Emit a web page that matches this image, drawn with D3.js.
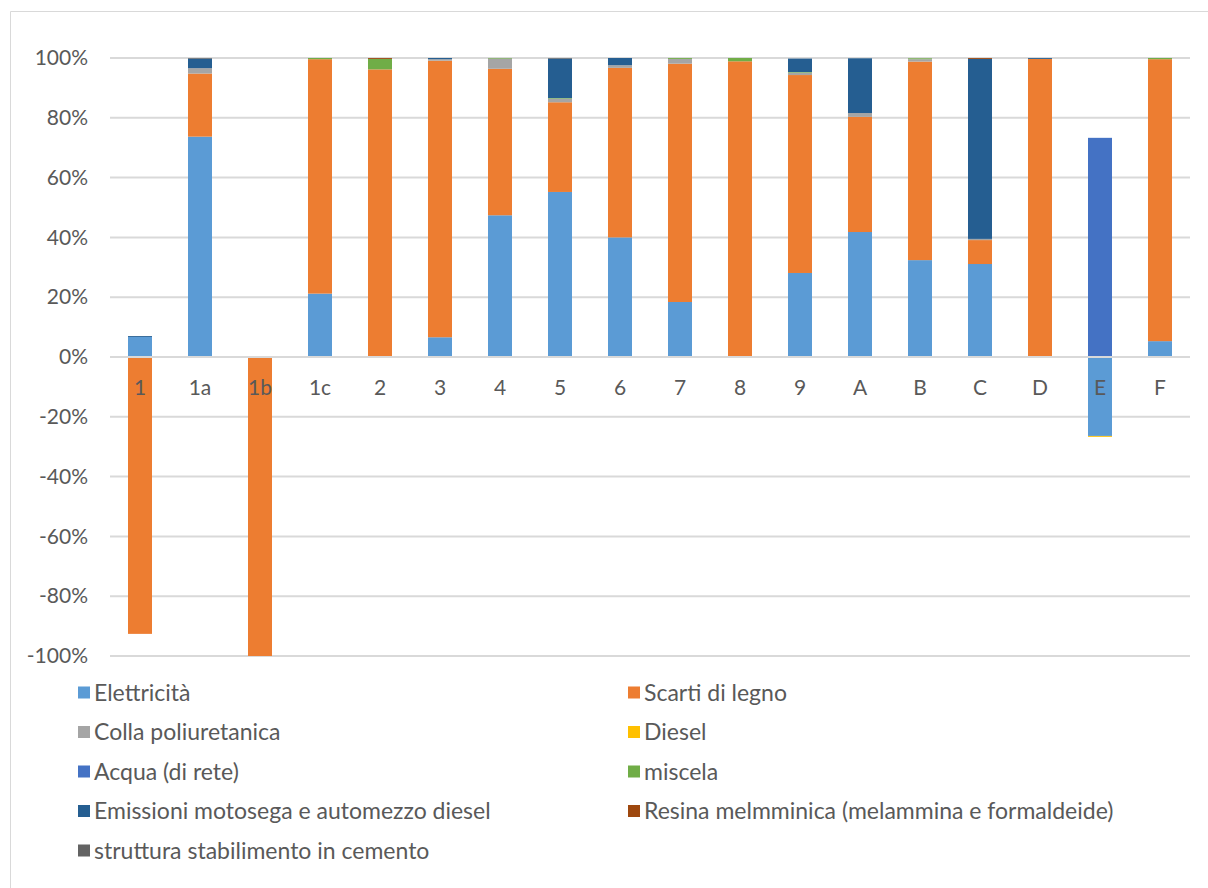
<!DOCTYPE html>
<html><head><meta charset="utf-8">
<script src="https://cdn.jsdelivr.net/npm/d3@7"></script>
<style>
html,body{margin:0;padding:0;background:#fff;}
text{font-family:Lato,"Open Sans",sans-serif;}
</style></head>
<body>
<svg id="chart" width="1208" height="888"></svg>
<script>
const categories = ["1","1a","1b","1c","2","3","4","5","6","7","8","9","A","B","C","D","E","F"];
const seriesNames = ["Elettricità","Scarti di legno","Colla poliuretanica","Diesel","Acqua (di rete)","miscela","Emissioni motosega e automezzo diesel","Resina melmminica (melammina e formaldeide)","struttura stabilimento in cemento"];
const elettricita = [0.067,0.737,0,0.212,0,0.066,0.474,0.552,0.400,0.184,0.003,0.281,0.418,0.324,0.311,0,-0.264,0.053];
const scarti      = [-0.926,0.211,-1.0,0.784,0.962,0.925,0.490,0.300,0.567,0.797,0.986,0.662,0.385,0.664,0.080,0.997,0,0.943];
const colla       = [0,0.018,0,0,0,0.005,0.034,0.012,0.009,0.016,0,0.008,0.013,0.008,0.004,0,0,0];
const diesel      = [0,0,0,0,0,0,0,0,0,0,0,0,0,0,0,0,-0.003,0];
const acqua       = [0,0,0,0,0,0,0,0,0,0,0,0,0,0,0,0,0.733,0];
const miscela     = [0,0,0,0.004,0.035,0,0.002,0.002,0,0.003,0.011,0.002,0,0.003,0,0,0,0.004];
const emissioni   = [0.003,0.032,0,0,0,0.004,0,0.132,0.024,0,0,0.045,0.183,0,0.602,0.003,0,0];
const resina      = [0,0,0,0,0.003,0,0,0,0,0,0,0,0,0,0.003,0,0,0];
const struttura   = [0,0.002,0,0,0,0,0,0.002,0,0,0,0,0,0,0,0,0,0];
const yTicks = [-1,-0.8,-0.6,-0.4,-0.2,0,0.2,0.4,0.6,0.8,1];
const colors = ["#5B9BD5","#ED7D31","#A5A5A5","#FFC000","#4472C4","#70AD47","#255E91","#9E480E","#636363"];

const seriesValues = [elettricita,scarti,colla,diesel,acqua,miscela,emissioni,resina,struttura];
const rows = categories.map((c,i)=>{const r={cat:c}; seriesNames.forEach((s,j)=>r[s]=seriesValues[j][i]); return r;});
const stacked = d3.stack().keys(seriesNames).offset(d3.stackOffsetDiverging)(rows);

const svg = d3.select("#chart");
const L=110, R=1190, T=58, B=656;
const x = d3.scaleBand().domain(categories).range([L,R]).paddingInner(0.6).paddingOuter(0.3);
const y = d3.scaleLinear().domain([-1,1]).range([B,T]);
const color = d3.scaleOrdinal().domain(seriesNames).range(colors);

// chart border
svg.append("path").attr("d","M10.5,888 V11.5 H1208").attr("fill","none").attr("stroke","#d9d9d9").attr("stroke-width",1);

// gridlines
svg.append("g").selectAll("line").data(yTicks.filter(t=>t!==0)).join("line")
  .attr("x1",L).attr("x2",R).attr("y1",d=>y(d)).attr("y2",d=>y(d))
  .attr("stroke","#d9d9d9").attr("stroke-width",2);

// y axis labels
const yAxis = d3.axisLeft(y).tickValues(yTicks).tickFormat(d=>Math.round(d*100)+"%").tickSize(0).tickPadding(22);
const ga = svg.append("g").attr("transform",`translate(${L},0)`).call(yAxis);
ga.select(".domain").remove();
ga.selectAll("text").attr("fill","#595959").style("font-size","21px").style("font-family","Lato,'Open Sans',sans-serif");

// bars
svg.append("g").selectAll("g").data(stacked).join("g").attr("fill",d=>color(d.key))
  .selectAll("rect").data(d=>d).join("rect")
  .attr("x",d=>x(d.data.cat)).attr("width",x.bandwidth())
  .attr("y",d=>y(Math.max(d[0],d[1]))).attr("height",d=>Math.abs(y(d[0])-y(d[1])));

// zero axis line
svg.append("line").attr("x1",L).attr("x2",R).attr("y1",y(0)).attr("y2",y(0)).attr("stroke","#d9d9d9").attr("stroke-width",2);

// category labels
const xAxis = d3.axisBottom(x).tickSize(0).tickPadding(23);
const gx = svg.append("g").attr("transform",`translate(0,${y(0)})`).call(xAxis);
gx.select(".domain").remove();
gx.selectAll("text").attr("fill","#595959").style("font-size","21px").style("font-family","Lato,'Open Sans',sans-serif");

// legend
const legX=[78,628], legY0=692.5, legDY=39.5;
const lg = svg.append("g").selectAll("g").data(seriesNames).join("g")
  .attr("transform",(d,i)=>`translate(${legX[i%2]},${legY0+Math.floor(i/2)*legDY})`);
lg.append("rect").attr("x",0).attr("y",-6).attr("width",12).attr("height",12).attr("fill",d=>color(d));
lg.append("text").attr("x",16).attr("y",0).attr("dy","0.35em").attr("fill","#595959").style("font-size","23px").text(d=>d);
</script>
</body></html>
